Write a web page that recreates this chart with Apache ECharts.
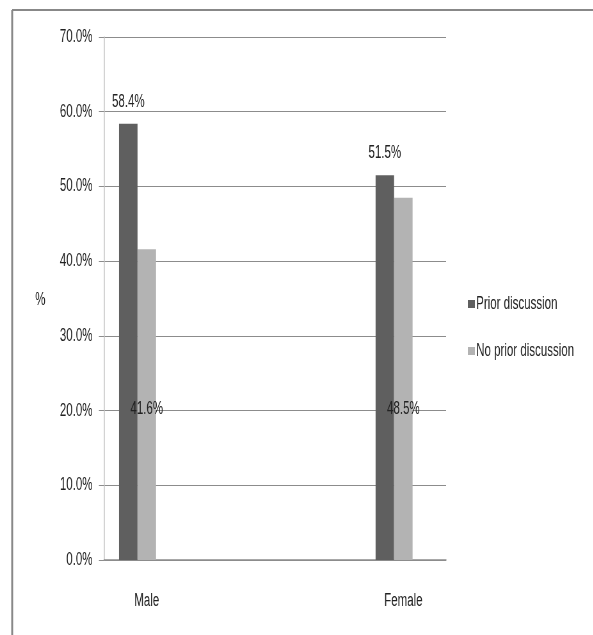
<!DOCTYPE html>
<html>
<head>
<meta charset="utf-8">
<script src="https://cdn.jsdelivr.net/npm/echarts@6/dist/echarts.min.js"></script>
<style>
  html, body { margin: 0; padding: 0; background: #fff; overflow: hidden; }
  /* the original picture is horizontally squeezed, so draw wider and squeeze */
  #chart { width: 927px; height: 635px; transform: scaleX(0.64); transform-origin: 0 0; }
</style>
</head>
<body>
<div id="chart"></div>
<script>
// categories (two empty slots between Male and Female)
const categories = ['Male', '', '', 'Female']
const priorDiscussion = [58.4, null, null, 51.5]
const noPriorDiscussion = [41.6, null, null, 48.5]
const yTicks = [0, 10, 20, 30, 40, 50, 60, 70]

const font = '"Liberation Sans", Arial, sans-serif'
const chart = echarts.init(document.getElementById('chart'))

chart.setOption({
  animation: false,
  backgroundColor: '#fff',
  graphic: [
    { type: 'line', shape: { x1: 19, y1: 10, x2: 927, y2: 10 }, style: { stroke: '#888', lineWidth: 2 } },
    { type: 'line', shape: { x1: 19, y1: 10, x2: 19, y2: 635 }, style: { stroke: '#888', lineWidth: 3 } },
    { type: 'text', left: 55, top: 291, style: { text: '%', font: '18px ' + font, fill: '#222' } }
  ],
  grid: { left: 162.5, right: 230, top: 37, bottom: 75 },
  legend: {
    orient: 'vertical',
    left: 726, top: 290,
    itemWidth: 11, itemHeight: 8, itemGap: 29,
    icon: 'rect',
    data: ['Prior discussion', 'No prior discussion'],
    textStyle: { fontFamily: font, fontSize: 18, color: '#222', padding: [0, 0, 0, -3] }
  },
  xAxis: {
    type: 'category',
    data: categories,
    axisLine: { lineStyle: { color: '#8c8c8c', width: 1.5 } },
    axisTick: { length: 9, lineStyle: { color: '#8c8c8c', width: 1.5 } },
    axisLabel: { margin: 32, fontFamily: font, fontSize: 18, color: '#222' }
  },
  yAxis: {
    type: 'value',
    min: yTicks[0], max: yTicks[yTicks.length - 1], interval: 10,
    axisLine: { show: true, lineStyle: { color: '#c4c4c4', width: 1.5 } },
    axisTick: { show: true, length: 8, lineStyle: { color: '#8c8c8c' } },
    axisLabel: { margin: 18, fontFamily: font, fontSize: 18, color: '#222', formatter: v => v.toFixed(1) + '%' },
    splitLine: { lineStyle: { color: '#8c8c8c', width: 1.2 } }
  },
  series: [
    {
      name: 'Prior discussion', type: 'bar', data: priorDiscussion,
      barWidth: 28.9, barGap: '0%',
      itemStyle: { color: '#5f5f5f' },
      label: { show: true, position: 'top', distance: 13, fontFamily: font, fontSize: 18, color: '#222', formatter: p => p.value.toFixed(1) + '%' }
    },
    {
      name: 'No prior discussion', type: 'bar', data: noPriorDiscussion,
      barWidth: 28.9,
      itemStyle: { color: '#b3b3b3' },
      label: { show: true, position: 'insideBottom', distance: 142, fontFamily: font, fontSize: 18, color: '#222', formatter: p => p.value.toFixed(1) + '%' }
    },
    {
      name: 'spacer', type: 'bar', data: [null, null, null, null], barWidth: 28.9
    }
  ]
})
</script>
</body>
</html>
